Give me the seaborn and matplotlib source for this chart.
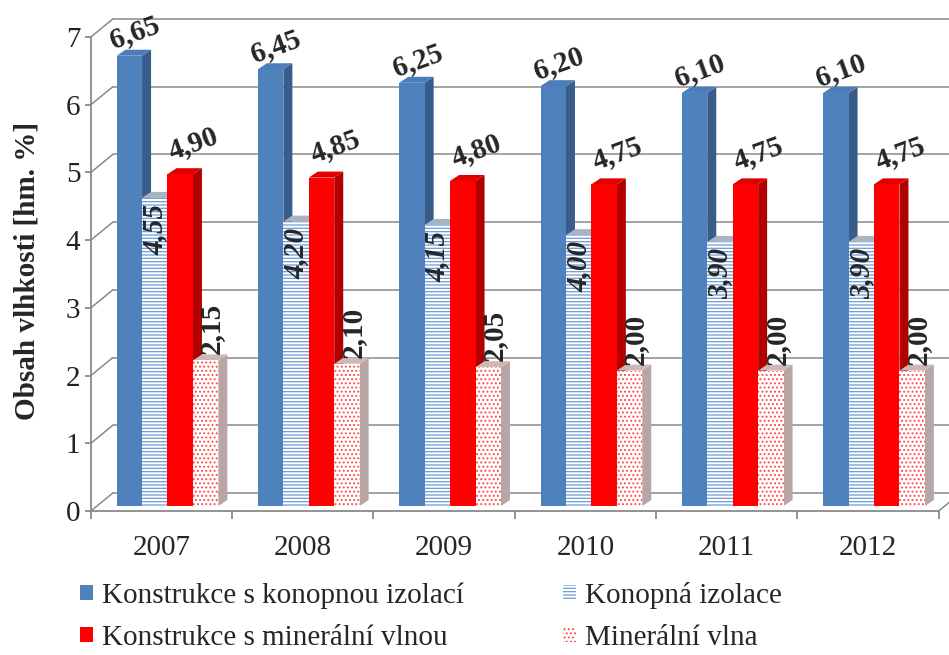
import numpy as np
import pandas as pd
import seaborn as sns
import matplotlib.pyplot as plt
from matplotlib.patches import Polygon

roky = ['2007', '2008', '2009', '2010', '2011', '2012']
typy = ['Konstrukce s konopnou izolací', 'Konopná izolace',
        'Konstrukce s minerální vlnou', 'Minerální vlna']
konstrukce_konopi = [6.65, 6.45, 6.25, 6.20, 6.10, 6.10]
konopna_izolace = [4.55, 4.20, 4.15, 4.00, 3.90, 3.90]
konstrukce_mineral = [4.90, 4.85, 4.80, 4.75, 4.75, 4.75]
mineralni_vlna = [2.15, 2.10, 2.05, 2.00, 2.00, 2.00]

df = pd.DataFrame({
    'rok': np.tile(roky, 4),
    'typ': np.repeat(typy, len(roky)),
    'hodnota': np.concatenate([konstrukce_konopi, konopna_izolace,
                               konstrukce_mineral, mineralni_vlna]),
})

sns.set_style('white')
plt.rcParams['font.family'] = ['Liberation Serif', 'DejaVu Serif']
plt.rcParams['hatch.linewidth'] = 0.9

W, H = 949, 655
AX_W, AX_H = 847.8, 474
fig = plt.figure(figsize=(W / 100, H / 100), dpi=100)


def add_ax(left, bottom):
    a = fig.add_axes([left / W, bottom / H, AX_W / W, AX_H / H])
    a.patch.set_visible(False)
    return a


ax_back = add_ax(112.85, 162)   # back wall
ax_front = add_ax(90.85, 144)   # front axis lines
ax = add_ax(96.85, 149)         # bars

grey = '#8a8a8a'
front_cols = ['#4F81BD', 'white', '#FF0000', 'white']
side_cols = ['#385D8A', '#C3D1E6', '#B00000', '#B8A6A6']
top_cols = ['#4A7DBA', '#A8B4C4', '#E00000', '#CDB8B8']

sns.barplot(data=df, x='rok', y='hodnota', hue='typ', hue_order=typy,
            palette=dict(zip(typy, front_cols)), width=0.72, gap=0,
            saturation=1, errorbar=None, legend=False, ax=ax)

for a in (ax_back, ax, ax_front):
    a.set_xlim(-0.5, 5.5)
    a.set_ylim(0, 7)
    for s in a.spines.values():
        s.set_visible(False)
    a.set_xlabel('')
    a.set_ylabel('')

ax.set_xticks([])
ax.set_yticks([])
ax_back.set_xticks([])
ax_back.set_yticks([])

# px -> data units
sx = 6 / AX_W
sy = 7 / AX_H
dx, dy = 9 * sx, 6 * sy

for i, cont in enumerate(ax.containers):
    for p in cont:
        p.set_zorder(5)
        p.set_linewidth(0)
        if i == 1:
            p.set_hatch('-----')
            p.set_edgecolor('#6C9CD8')
        elif i == 3:
            p.set_hatch('....')
            p.set_edgecolor('#FF4A4A')
        else:
            p.set_edgecolor(front_cols[i])
        x0, w, h = p.get_x(), p.get_width(), p.get_height()
        side = Polygon([(x0 + w, 0), (x0 + w + dx, dy), (x0 + w + dx, h + dy), (x0 + w, h)],
                       fc=side_cols[i], ec='none', zorder=2 + i * 0.1, clip_on=False)
        top = Polygon([(x0, h), (x0 + dx, h + dy), (x0 + w + dx, h + dy), (x0 + w, h)],
                      fc=top_cols[i], ec='none', zorder=2 + i * 0.1, clip_on=False)
        ax.add_patch(side)
        ax.add_patch(top)

        cx = x0 + w / 2
        txt = f'{h:.2f}'.replace('.', ',')
        kw = dict(xy=(cx, h), textcoords='offset pixels', fontsize=21,
                  fontweight='bold', rotation_mode='anchor',
                  annotation_clip=False, zorder=7)
        if i == 0:
            ax.annotate(txt, xytext=(10, 10), rotation=20, ha='center', va='bottom', **kw)
        elif i == 1:
            ax.annotate(txt, xytext=(0, -6), rotation=90, ha='right', va='center',
                        fontstyle='italic', **kw)
        elif i == 2:
            ax.annotate(txt, xytext=(18, 18), rotation=20, ha='center', va='bottom', **kw)
        else:
            ax.annotate(txt, xytext=(6, 6), rotation=90, ha='left', va='center', **kw)

# back wall gridlines and side wall diagonals
for k in range(8):
    ax_back.plot([-0.5, 5.5], [k, k], color=grey, lw=1.1, clip_on=False, zorder=1)
    ax_back.plot([-0.5 - 22 * sx, -0.5], [k - 18 * sy, k], color=grey, lw=1.1,
                 clip_on=False, zorder=1)
ax_back.plot([5.5 - 22 * sx, 5.5], [-18 * sy, 0], color=grey, lw=1.1, clip_on=False)

# front axes
ax_front.spines['left'].set_visible(True)
ax_front.spines['bottom'].set_visible(True)
ax_front.spines['left'].set_bounds(0, 7)
for s in ('left', 'bottom'):
    ax_front.spines[s].set_color(grey)
    ax_front.spines[s].set_linewidth(1.3)
ax_front.set_yticks(range(8))
ax_front.tick_params(axis='y', length=4.5, width=1.3, color=grey, labelsize=21,
                     labelcolor='#222222', pad=3, left=True)
ax_front.set_xticks(np.arange(-0.5, 6, 1), [''] * 7)
ax_front.set_xticks(np.arange(6), roky, minor=True)
ax_front.tick_params(axis='x', which='major', length=6, width=1.3, color=grey, bottom=True)
ax_front.tick_params(axis='x', which='minor', length=0, labelsize=21, pad=17)

fig.text(27 / W, 1 - 271 / H, 'Obsah vlhkosti [hm. %]', rotation=90,
         ha='center', va='center', fontsize=21, fontweight='bold')

handles = [ax.containers[i][0] for i in (0, 2, 1, 3)]
labels = [typy[i] for i in (0, 2, 1, 3)]
fig.legend(handles, labels, ncol=2, loc='upper left',
           bbox_to_anchor=(80 / W, 1 - 582 / H), frameon=False, fontsize=21,
           handlelength=0.45, handleheight=0.45, handletextpad=0.3,
           columnspacing=3.4, labelspacing=0.55, borderaxespad=0, borderpad=0)

fig.savefig('out.png', dpi=100)
